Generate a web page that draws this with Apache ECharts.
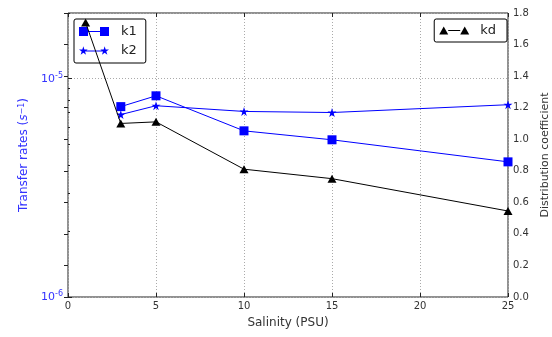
<!DOCTYPE html>
<html>
<head>
<meta charset="utf-8">
<script src="https://cdn.jsdelivr.net/npm/echarts@6/dist/echarts.min.js"></script>
<style>
  html, body { margin: 0; padding: 0; background: #fff; }
  #chart { width: 552px; height: 337px; }
</style>
</head>
<body>
<div id="chart"></div>
<script>
// Salinity (PSU) at which each series was measured
const salinityK = [3, 5, 10, 15, 25];
const salinityKd = [1, 3, 5, 10, 15, 25];

// Transfer rates (s^-1), log scale
const k1Values = [7.45e-6, 8.35e-6, 5.77e-6, 5.25e-6, 4.16e-6];
const k2Values = [6.85e-6, 7.52e-6, 7.08e-6, 7.0e-6, 7.6e-6];

// Distribution coefficient
const kdValues = [1.74, 1.10, 1.11, 0.81, 0.75, 0.545];

// Axis ranges and ticks
const xTicks = [0, 5, 10, 15, 20, 25];
const rateMin = 1e-6, rateMax = 2e-5;
const rateMinorTicks = [2e-6, 3e-6, 4e-6, 5e-6, 6e-6, 7e-6, 8e-6, 9e-6, 2e-5];
const kdMin = 0, kdMax = 1.8, kdStep = 0.2;

const FONT = 'DejaVu Sans';
const BLUE = '#0000ff';
const BLUE_TEXT = '#3333ff';
const TEXT = '#333';

function pairs(xs, ys) { return xs.map((x, i) => [x, ys[i]]); }

// five-pointed star as an SVG path, centred at (cx, cy)
function starPath(cx, cy, R) {
  const r = R * 0.38;
  let d = '';
  for (let i = 0; i < 10; i++) {
    const rad = i % 2 === 0 ? R : r;
    const a = Math.PI / 2 - i * Math.PI / 5;
    const x = cx + rad * Math.cos(a);
    const y = cy - rad * Math.sin(a);
    d += (i === 0 ? 'M' : 'L') + x.toFixed(3) + ',' + y.toFixed(3);
  }
  return d + 'Z';
}
const STAR = 'path://' + starPath(0, 0, 10);
// legend handles: marker, line, marker
const ICON_K1 = 'path://M0,0H9V9H0Z M9,4H21V5H9Z M21,0H30V9H21Z';
const ICON_K2 = 'path://' + starPath(4.5, 4.5, 4.5) + ' M4.5,4H25.5V5H4.5Z ' + starPath(25.5, 4.5, 4.5);
const ICON_KD = 'path://M0,8L4.5,0L9,8Z M9,3.5H21V4.5H9Z M21,8L25.5,0L30,8Z';

function sup(v) {
  const e = Math.round(Math.log10(v));
  return '10{e|' + e + '}';
}

const chart = echarts.init(document.getElementById('chart'), null, { renderer: 'canvas' });

const option = {
  animation: false,
  backgroundColor: '#fff',
  textStyle: { fontFamily: FONT },
  grid: {
    left: 68, right: 44, top: 13, bottom: 40,
    outerBoundsMode: 'none', containLabel: false,
    show: true, borderColor: '#222', borderWidth: 1, backgroundColor: 'transparent'
  },
  legend: [
    {
      data: [
        { name: 'k1', icon: ICON_K1 },
        { name: 'k2', icon: ICON_K2 }
      ],
      orient: 'vertical',
      left: 74, top: 19,
      itemWidth: 30, itemHeight: 9, itemGap: 6,
      padding: [6, 9, 6, 5],
      borderColor: '#000', borderWidth: 1, borderRadius: 2,
      backgroundColor: '#fff',
      textStyle: { fontFamily: FONT, fontSize: 13, color: '#222', padding: [0, 0, 0, 7] }
    },
    {
      data: [{ name: 'kd', icon: ICON_KD }],
      right: 45, top: 19,
      itemWidth: 30, itemHeight: 8,
      padding: [5, 11, 5, 5],
      borderColor: '#000', borderWidth: 1, borderRadius: 2,
      backgroundColor: '#fff',
      textStyle: { fontFamily: FONT, fontSize: 13, color: '#222', padding: [0, 0, 0, 6] }
    }
  ],
  xAxis: [
    {
      type: 'value', min: xTicks[0], max: xTicks[xTicks.length - 1], interval: 5,
      position: 'bottom',
      name: 'Salinity (PSU)', nameLocation: 'middle', nameGap: 20,
      nameTextStyle: { fontFamily: FONT, fontSize: 12, color: TEXT },
      axisLine: { show: false },
      axisTick: { show: true, inside: true, length: 4, lineStyle: { color: '#222' } },
      axisLabel: { fontFamily: FONT, fontSize: 10, color: TEXT, margin: 4 },
      splitLine: { show: true, lineStyle: { color: '#aaa', type: [1, 2], width: 1 } }
    },
    {
      type: 'value', min: xTicks[0], max: xTicks[xTicks.length - 1], interval: 5,
      position: 'top',
      axisLine: { show: false },
      axisTick: { show: true, inside: true, length: 4, lineStyle: { color: '#222' } },
      axisLabel: { show: false },
      splitLine: { show: false }
    }
  ],
  yAxis: [
    {
      type: 'log', logBase: 10, min: rateMin, max: rateMax,
      position: 'left',
      name: 'Transfer rates ({i|s}{s|−1})', nameLocation: 'middle', nameGap: 36, nameRotate: 90,
      nameTextStyle: {
        fontFamily: FONT, fontSize: 12, color: BLUE_TEXT,
        rich: {
          i: { fontFamily: FONT, fontSize: 12, fontStyle: 'italic', color: BLUE_TEXT },
          s: { fontFamily: FONT, fontSize: 8, color: BLUE_TEXT, verticalAlign: 'top', padding: [0, 0, 5, 0] }
        }
      },
      axisLine: { show: false },
      axisTick: { show: true, inside: true, length: 4, lineStyle: { color: '#222' } },
      axisLabel: {
        showMaxLabel: false,
        fontFamily: FONT, fontSize: 11, color: BLUE_TEXT, margin: 5,
        formatter: sup,
        rich: {
          e: { fontFamily: FONT, fontSize: 8, color: BLUE_TEXT, verticalAlign: 'top', padding: [0, 0, 6, 0] }
        }
      },
      splitLine: { show: true, lineStyle: { color: '#aaa', type: [1, 2], width: 1 } }
    },
    {
      type: 'value', min: kdMin, max: kdMax, interval: kdStep,
      position: 'right',
      name: 'Distribution coefficient', nameLocation: 'middle', nameGap: 27, nameRotate: 90,
      nameTextStyle: { fontFamily: FONT, fontSize: 11, color: TEXT },
      axisLine: { show: false },
      axisTick: { show: true, inside: true, length: 4, lineStyle: { color: '#222' } },
      axisLabel: {
        fontFamily: FONT, fontSize: 10, color: TEXT, margin: 5,
        formatter: v => v.toFixed(1)
      },
      splitLine: { show: false }
    },
    {
      // minor ticks of the log axis
      type: 'log', logBase: 10, min: rateMin, max: rateMax,
      position: 'left', offset: 0,
      axisLine: { show: false },
      axisTick: { show: true, inside: true, length: 2, customValues: rateMinorTicks, lineStyle: { color: '#222' } },
      axisLabel: { show: false },
      splitLine: { show: false }
    }
  ],
  series: [
    {
      name: 'k1', type: 'line', xAxisIndex: 0, yAxisIndex: 0,
      data: pairs(salinityK, k1Values),
      symbol: 'rect', symbolSize: 9,
      itemStyle: { color: BLUE },
      lineStyle: { color: BLUE, width: 1 },
      z: 3
    },
    {
      name: 'k2', type: 'line', xAxisIndex: 0, yAxisIndex: 0,
      data: pairs(salinityK, k2Values),
      symbol: STAR, symbolSize: 9,
      itemStyle: { color: BLUE },
      lineStyle: { color: BLUE, width: 1 },
      z: 3
    },
    {
      name: 'kd', type: 'line', xAxisIndex: 0, yAxisIndex: 1,
      data: pairs(salinityKd, kdValues),
      symbol: 'triangle', symbolSize: [9, 8],
      itemStyle: { color: '#000' },
      lineStyle: { color: '#000', width: 1 },
      z: 5
    }
  ]
};

chart.setOption(option);
</script>
</body>
</html>
